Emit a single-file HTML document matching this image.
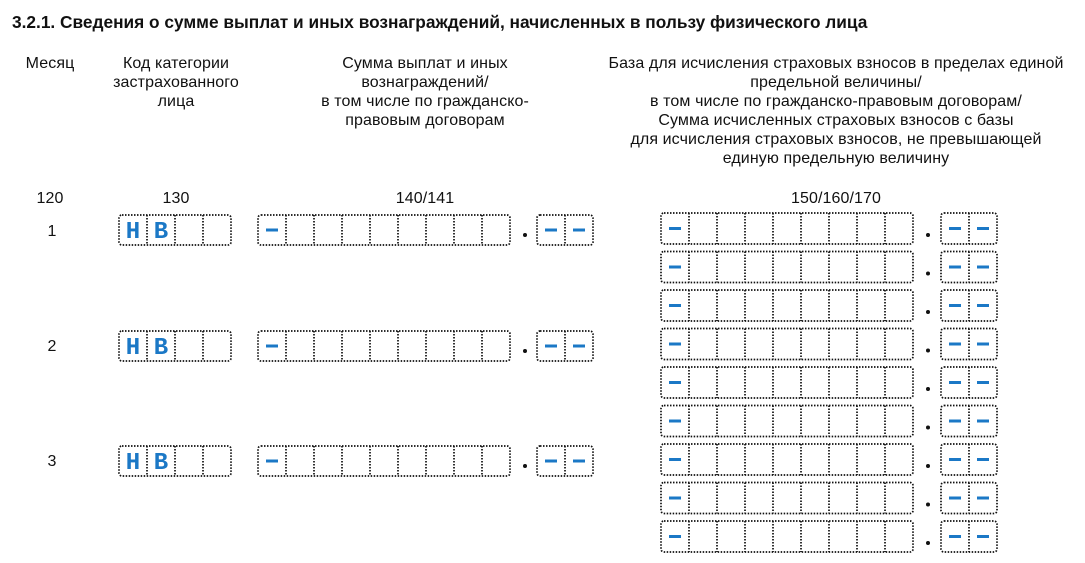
<!DOCTYPE html>
<html><head><meta charset="utf-8"><style>
html,body{margin:0;padding:0;background:#fff;width:1085px;height:563px;overflow:hidden}
svg{display:block}
text{font-family:"Liberation Sans",Arial,sans-serif;font-size:16px;letter-spacing:0.1px;fill:#111}
.t{font-weight:bold;font-size:17.3px;letter-spacing:0}
.c{text-anchor:middle}
.b{font-family:"Liberation Mono","Courier New",monospace;font-weight:bold;font-size:24px;fill:#1b78c6;text-anchor:middle}
</style></head><body>
<svg id="s" width="1085" height="563" xmlns="http://www.w3.org/2000/svg">
<text class="t" x="12" y="28">3.2.1. Сведения о сумме выплат и иных вознаграждений, начисленных в пользу физического лица</text>
<text class="c" x="50" y="68">Месяц</text>
<text class="c" x="176" y="68">Код категории</text>
<text class="c" x="176" y="87">застрахованного</text>
<text class="c" x="176" y="106">лица</text>
<text class="c" x="425" y="68">Сумма выплат и иных</text>
<text class="c" x="425" y="87">вознаграждений/</text>
<text class="c" x="425" y="106">в том числе по гражданско-</text>
<text class="c" x="425" y="125">правовым договорам</text>
<text class="c" x="836" y="68">База для исчисления страховых взносов в пределах единой</text>
<text class="c" x="836" y="87">предельной величины/</text>
<text class="c" x="836" y="106">в том числе по гражданско-правовым договорам/</text>
<text class="c" x="836" y="125">Сумма исчисленных страховых взносов с базы</text>
<text class="c" x="836" y="144">для исчисления страховых взносов, не превышающей</text>
<text class="c" x="836" y="163">единую предельную величину</text>
<text class="c" x="50" y="203">120</text>
<text class="c" x="176" y="203">130</text>
<text class="c" x="425" y="203">140/141</text>
<text class="c" x="836" y="203">150/160/170</text>
<text class="c" x="52" y="236">1</text>
<text class="c" x="52" y="351">2</text>
<text class="c" x="52" y="466">3</text>
<text class="b" x="133" y="238">Н</text><text class="b" x="161" y="238">В</text>
<text class="b" x="133" y="354">Н</text><text class="b" x="161" y="354">В</text>
<text class="b" x="133" y="469">Н</text><text class="b" x="161" y="469">В</text>
</svg>
<script>
var s=document.getElementById('s'),NS='http://www.w3.org/2000/svg';
function el(n,a){var e=document.createElementNS(NS,n);for(var k in a)e.setAttribute(k,a[k]);s.appendChild(e);return e;}
function box(x,y,n,w,h,dash){
 el('rect',{x:x,y:y,width:n*w,height:h,rx:3,fill:'none',stroke:'#111','stroke-width':1.7,'stroke-dasharray':'1.5 1.5'});
 for(var i=1;i<n;i++)el('line',{x1:x+i*w,y1:y,x2:x+i*w,y2:y+h,stroke:'#111','stroke-width':1.7,'stroke-dasharray':'1.5 1.5'});
 for(var j=0;j<dash.length;j++){var cx=x+dash[j]*w+w/2;el('rect',{x:cx-6,y:y+h/2-1.5,width:12,height:3,fill:'#1b78c6'});}
}
var W=28;
[215,331,446].forEach(function(y){
 box(119,y,4,W,30,[]);
 box(258,y,9,W,30,[0]);
 el('circle',{cx:525,cy:y+20,r:2,fill:'#111'});
 box(537,y,2,W,30,[0,1]);
});
for(var r=0;r<9;r++){var y=213+r*38.5;
 box(661,y,9,W,31,[0]);
 el('circle',{cx:928,cy:y+22,r:2,fill:'#111'});
 box(941,y,2,W,31,[0,1]);
}
</script>
</body></html>
